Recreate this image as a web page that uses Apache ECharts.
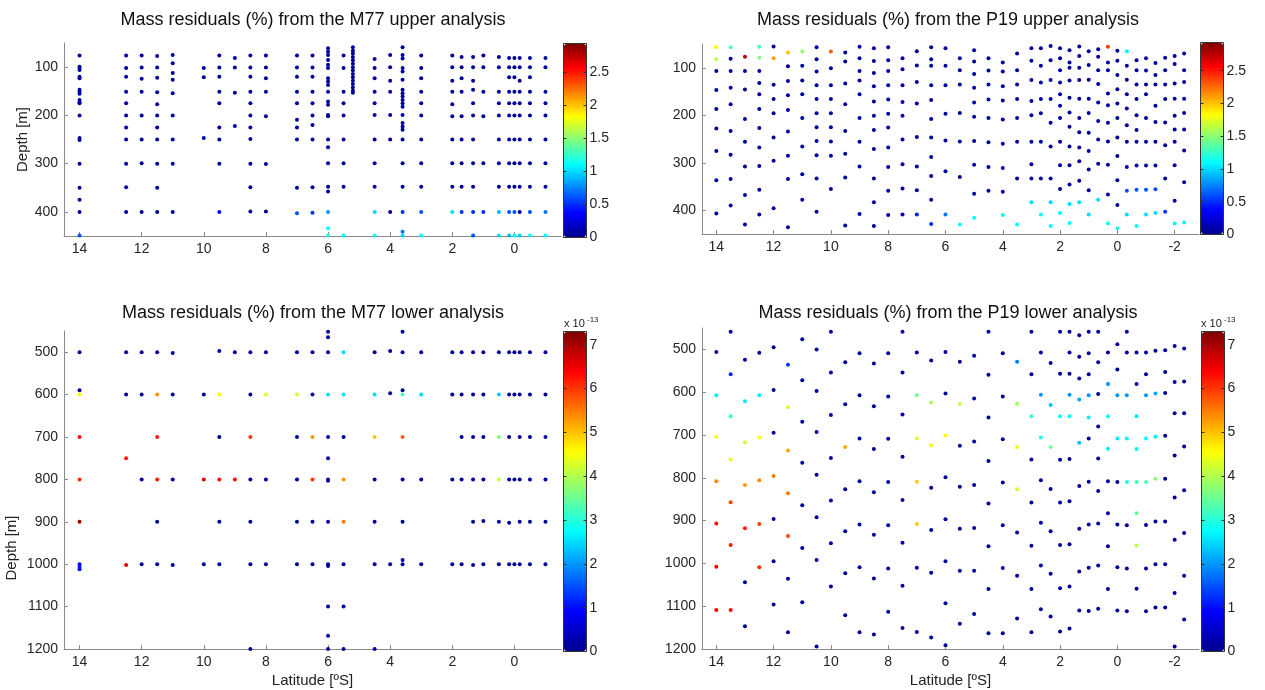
<!DOCTYPE html>
<html>
<head>
<meta charset="utf-8">
<title>Mass residuals</title>
<script src="https://cdn.jsdelivr.net/npm/echarts@6/dist/echarts.min.js"></script>
<style>
  html, body { margin: 0; padding: 0; background: #fff; }
  #main { width: 1265px; height: 690px; }
</style>
</head>
<body>
<div id="main"></div>
<script>
// ---- data: [latitude (ºS), depth (m)] per station column ----

// M77 upper: station latitudes and the dark (near zero) samples in each column
const m77UpperLat = [14, 12.5, 12, 11.5, 11, 10, 9.5, 9, 8.5, 8, 7, 6.5, 6, 5.5, 5.2, 4.5, 4, 3.6, 3, 2, 1.7, 1.33, 1, 0.5, 0.17, 0, -0.17, -0.5, -1];
const m77UpperDepth = [
  [76, 99, 102, 106, 120, 123, 147, 151, 155, 168, 173, 175, 200, 247, 251, 300, 350, 375, 400],
  [76, 102, 120, 151, 175, 200, 225, 250, 300, 349, 400],
  [76, 101, 124, 151, 200, 250, 299, 400],
  [77, 101, 122, 152, 177, 200, 225, 250, 300, 350, 400],
  [75, 92, 112, 126, 154, 200, 250, 300, 400],
  [102, 121, 247],
  [76, 101, 120, 151, 175, 225, 250, 300],
  [81, 101, 153, 222],
  [76, 101, 120, 151, 175, 200, 225, 249, 300, 349, 399],
  [76, 101, 123, 151, 202, 301, 399],
  [76, 101, 120, 151, 175, 209, 225, 250, 350],
  [76, 101, 120, 151, 175, 200, 220, 250, 349],
  [61, 68, 75, 85, 95, 102, 123, 130, 137, 151, 171, 178, 199, 202, 250, 266, 299, 348, 358],
  [76, 102, 151, 175, 200, 250, 299, 348],
  [59, 66, 72, 79, 86, 93, 100, 107, 114, 121, 128, 135, 142, 149, 153],
  [83, 102, 123, 151, 175, 199, 250, 299, 348],
  [75, 100, 128, 151, 199, 250, 400],
  [59, 75, 82, 102, 109, 126, 147, 154, 161, 168, 175, 182, 199, 216, 223, 230, 250, 299, 348],
  [76, 102, 123, 151, 175, 200, 250, 299, 348],
  [76, 100, 128, 151, 177, 202, 250, 299, 348],
  [79, 100, 123, 151, 202, 250, 299, 348],
  [79, 100, 128, 147, 175, 200, 250, 299, 348],
  [76, 100, 151, 202, 299],
  [79, 100, 151, 175, 200, 250, 299, 348],
  [81, 100, 121, 151, 175, 200, 250, 299, 348],
  [81, 100, 121, 151, 175, 200, 250, 299, 348],
  [81, 100, 128, 151, 175, 200, 250, 299, 348, 400],
  [81, 100, 121, 151, 175, 200, 250, 299, 348],
  [81, 100, 151, 175, 200, 250, 299, 348]
];
const m77UpperBase = 0.05;
// [lat, depth, residual %] for the lighter samples
const m77UpperColoured = [
  [14, 449, 0.6], [9.5, 400, 0.4], [7, 403, 0.6], [6.5, 402, 0.5], [6, 400, 0.8], [6, 434, 1.1], [6, 449, 1.2],
  [5.5, 449, 1.1], [4.5, 400, 1.0], [4.5, 449, 1.1], [3.6, 400, 0.5], [3.6, 441, 0.7], [3.6, 449, 1.0],
  [3, 400, 0.6], [3, 449, 1.1], [2, 400, 1.0], [1.7, 400, 0.5], [1.33, 400, 0.5], [1.33, 449, 0.6],
  [1, 400, 0.5], [0.5, 400, 0.9], [0.5, 449, 1.0], [0.17, 400, 0.6], [0.17, 449, 0.9], [0, 400, 0.6],
  [0, 449, 1.1], [-0.17, 449, 1.0], [-0.5, 400, 0.6], [-0.5, 449, 1.1], [-1, 400, 0.7], [-1, 449, 1.1]
];

// P19 upper
const p19Lat = [14, 13.5, 13, 12.5, 12, 11.5, 11, 10.5, 10, 9.5, 9, 8.5, 8, 7.5, 7, 6.5, 6, 5.5, 5, 4.5, 4, 3.5, 3, 2.67, 2.33, 2, 1.67, 1.33, 1, 0.67, 0.33, 0, -0.33, -0.67, -1, -1.33, -1.67, -2, -2.33];
const p19UpperDepth = [
  [107, 147, 187, 228, 275, 337, 407],
  [81, 107, 142, 177, 233, 283, 334, 390],
  [107, 146, 208, 256, 308, 368, 430],
  [107, 132, 156, 187, 227, 268, 307, 357, 409],
  [55, 136, 166, 196, 247, 296, 396],
  [97, 128, 158, 189, 234, 285, 334, 436],
  [96, 127, 156, 206, 266, 324, 378],
  [57, 82, 108, 137, 166, 196, 225, 254, 284, 333, 403],
  [101, 137, 166, 196, 225, 255, 285, 355],
  [68, 87, 133, 177, 233, 281, 331, 432],
  [56, 80, 107, 127, 156, 206, 256, 308, 408],
  [59, 86, 111, 139, 171, 201, 231, 271, 333, 383, 433],
  [57, 84, 107, 137, 167, 197, 226, 268, 309, 359, 410],
  [80, 103, 137, 172, 201, 251, 303, 354, 409],
  [65, 95, 130, 175, 246, 308, 358],
  [57, 82, 96, 137, 168, 208, 247, 288, 328, 378],
  [59, 96, 137, 197, 253, 318],
  [80, 105, 135, 195, 255, 330],
  [63, 87, 113, 142, 173, 203, 254, 304, 365],
  [80, 106, 135, 167, 206, 257, 309, 359],
  [89, 108, 139, 169, 209, 260, 311, 361],
  [70, 105, 135, 166, 206, 256, 333],
  [59, 85, 126, 170, 200, 256, 303, 333],
  [59, 96, 131, 166, 196, 256, 333],
  [54, 84, 126, 166, 216, 266, 333],
  [59, 80, 105, 131, 156, 180, 206, 256, 305, 355],
  [63, 89, 100, 127, 163, 194, 224, 266, 305, 346],
  [55, 75, 100, 126, 165, 206, 236, 268, 297, 338],
  [65, 94, 125, 165, 195, 237, 275, 314, 358],
  [61, 77, 105, 134, 173, 212, 251, 302],
  [89, 105, 154, 179, 216, 255, 304, 367],
  [64, 85, 115, 145, 175, 206, 247, 286, 337, 389],
  [96, 125, 156, 186, 221, 256, 309],
  [84, 105, 135, 166, 200, 231, 256, 306],
  [80, 106, 135, 156, 206, 256, 306],
  [90, 115, 135, 180, 214, 256, 306],
  [79, 105, 135, 166, 215, 263, 333],
  [75, 92, 133, 165, 201, 230, 256, 305, 380],
  [70, 105, 130, 165, 195, 230, 274, 341]
];
const p19UpperBase = 0.05;
const p19UpperColoured = [
  [14, 57, 1.8], [14, 82, 1.65], [13.5, 57, 1.3], [13, 77, 2.75], [12.5, 56, 1.3], [12.5, 79, 1.45],
  [12, 80, 2.1], [11.5, 68, 2.0], [11, 66, 1.5], [10, 66, 2.3], [7, 409, 0.45], [6.5, 429, 0.5],
  [6, 409, 0.7], [5.5, 430, 1.1], [5, 416, 1.1], [4, 410, 1.1], [3.5, 430, 1.1], [3, 383, 1.0],
  [2.67, 409, 1.1], [2.33, 383, 1.0], [2.33, 433, 1.1], [2, 406, 1.1], [1.67, 387, 1.0], [1.67, 427, 1.1],
  [1.33, 383, 1.0], [1, 409, 1.0], [0.67, 378, 1.0], [0.33, 56, 2.4], [0.33, 428, 1.1], [0, 438, 1.2],
  [-0.33, 65, 1.1], [-0.33, 359, 0.6], [-0.33, 409, 1.0], [-0.67, 357, 0.6], [-0.67, 433, 1.1],
  [-1, 357, 0.6], [-1, 409, 1.0], [-1.33, 356, 0.6], [-1.33, 406, 1.0], [-1.67, 403, 0.5],
  [-2, 428, 1.1], [-2.33, 426, 1.1]
];

// M77 lower (values x 1e-13 %)
const m77LowerLat = [14, 12.5, 12, 11.5, 11, 10, 9.5, 9, 8.5, 8, 7, 6.5, 6, 5.5, 4.5, 4, 3.6, 3, 2, 1.7, 1.33, 1, 0.5, 0.17, 0, -0.17, -0.5, -1];
const m77LowerDepth = [
  [500, 590],
  [500, 600],
  [500, 600, 800, 1000],
  [500, 900, 1000],
  [502, 600, 800, 1002],
  [600, 1000],
  [497, 700, 900, 1000],
  [500],
  [500, 600, 800, 900, 1000, 1200],
  [500, 800, 1000],
  [500, 700, 800, 900, 1000],
  [500, 600, 900, 1000],
  [452, 465, 500, 700, 750, 800, 803, 900, 1000, 1004, 1100, 1169, 1200],
  [700, 1000, 1100, 1200],
  [500, 800, 900, 1000, 1200],
  [497, 597, 1000],
  [452, 500, 590, 800, 900, 990, 1000],
  [500, 800, 1000],
  [500, 600, 800, 1000],
  [500, 600, 700, 800, 1000],
  [500, 600, 700, 800, 900, 1002],
  [500, 600, 700, 800, 898, 1000],
  [500, 900, 1000],
  [500, 600, 700, 800, 902, 1000],
  [500, 600, 800, 1000],
  [500, 600, 700, 800, 900, 1000],
  [500, 600, 700, 800, 900, 1000],
  [500, 600, 700, 800, 900, 1000]
];
const m77LowerBase = 0.1;
const m77LowerColoured = [
  [14, 600, 4.6], [14, 700, 6.3], [14, 800, 6.1], [14, 900, 7.0], [14, 1000, 1.0], [14, 1006, 1.0], [14, 1012, 1.0],
  [12.5, 750, 6.2], [12.5, 1002, 6.6], [11.5, 600, 5.3], [11.5, 700, 6.2], [11.5, 800, 6.2],
  [10, 800, 6.6], [9.5, 600, 4.6], [9.5, 800, 6.3], [9, 800, 6.3], [8.5, 700, 6.0], [8, 600, 4.3],
  [7, 600, 4.3], [6.5, 700, 5.3], [6.5, 800, 6.0], [6, 600, 2.5], [5.5, 500, 2.5], [5.5, 600, 2.5],
  [5.5, 800, 5.3], [5.5, 900, 5.5], [4.5, 600, 2.5], [4.5, 700, 5.0], [3.6, 600, 3.3], [3.6, 700, 5.7],
  [3, 600, 2.5], [0.5, 600, 2.4], [0.5, 700, 3.6], [0.5, 800, 4.2]
];

// P19 lower
const p19LowerDepth = [
  [506],
  [459],
  [524, 1044, 1147],
  [508],
  [495, 595, 695, 896, 995, 1096],
  [1036, 1161],
  [476, 572, 669, 765, 864, 964, 1091],
  [500, 597, 693, 793, 892, 992, 1194],
  [459, 554, 653, 754, 853, 953, 1054],
  [530, 628, 827, 925, 1023, 1121],
  [509, 607, 708, 808, 909, 1009, 1161],
  [533, 633, 733, 834, 933, 1035, 1166],
  [509, 610, 709, 810, 911, 1012, 1113],
  [459, 554, 652, 751, 852, 952, 1052, 1151],
  [507, 1010, 1160],
  [526, 823, 922, 1022, 1173],
  [506, 603, 799, 897, 995, 1093, 1191],
  [529, 725, 821, 919, 1017, 1141],
  [515, 615, 715, 817, 917, 1017, 1118],
  [459, 559, 659, 761, 860, 960, 1060, 1163],
  [509, 610, 710, 811, 911, 1011, 1163],
  [928, 1029, 1129],
  [459, 558, 757, 858, 959, 1060, 1161],
  [507, 806, 905, 1005, 1107],
  [532, 826, 925, 1024, 1124],
  [459, 557, 758, 858, 957, 1058, 1159],
  [459, 507, 557, 756, 855, 955, 1054, 1152],
  [467, 517, 568, 819, 919, 1019, 1110],
  [459, 509, 558, 708, 809, 909, 1010, 1111],
  [459, 530, 604, 680, 755, 831, 907, 1005, 1106],
  [507, 808, 883, 960, 1060],
  [488, 547, 810, 909, 1009, 1110],
  [459, 507, 911, 1012, 1112],
  [507, 581, 1059],
  [507, 558, 910, 1012, 1112],
  [503, 902, 1002, 1103],
  [502, 553, 602, 702, 802, 902, 1002, 1103],
  [492, 576, 649, 748, 846, 945, 1069, 1194],
  [498, 575, 649, 727, 829, 929, 1029, 1131]
];
const p19LowerBase = 0.1;
const p19LowerColoured = [
  [14, 607, 2.6], [14, 704, 4.5], [14, 808, 5.4], [14, 907, 6.3], [14, 1008, 6.5], [14, 1109, 6.5],
  [13.5, 558, 1.2], [13.5, 656, 3.1], [13.5, 757, 4.4], [13.5, 857, 5.9], [13.5, 957, 6.2], [13.5, 1109, 6.3],
  [13, 621, 2.6], [13, 717, 4.2], [13, 817, 5.3], [13, 918, 6.2],
  [12.5, 607, 2.6], [12.5, 706, 4.5], [12.5, 806, 5.4], [12.5, 908, 5.9], [12.5, 1009, 6.1],
  [12, 796, 5.5],
  [11.5, 536, 1.3], [11.5, 635, 4.2], [11.5, 736, 5.2], [11.5, 836, 5.5], [11.5, 936, 5.9],
  [9.5, 728, 5.2],
  [7, 607, 3.5], [7, 708, 4.3], [7, 809, 4.9], [7, 908, 4.9],
  [6.5, 624, 3.9], [6.5, 724, 4.5], [6, 701, 4.5], [5.5, 627, 4.1],
  [3.5, 529, 1.8], [3.5, 627, 3.9], [3.5, 728, 4.4], [3.5, 827, 4.2],
  [3, 656, 3.0], [2.67, 606, 2.0], [2.67, 706, 2.9], [2.33, 630, 2.3], [2.33, 728, 3.6],
  [2, 656, 2.7], [1.67, 606, 2.0], [1.67, 656, 2.7], [1.33, 617, 2.1], [1.33, 718, 2.3],
  [1, 607, 2.0], [1, 659, 2.6], [0.33, 581, 1.9], [0.33, 656, 2.7], [0.33, 732, 2.6],
  [0, 607, 2.0], [0, 708, 2.6], [-0.33, 607, 2.0], [-0.33, 708, 2.7], [-0.33, 810, 3.0],
  [-0.67, 656, 2.6], [-0.67, 733, 2.7], [-0.67, 810, 3.2], [-0.67, 883, 3.5], [-0.67, 958, 4.1],
  [-1, 607, 2.0], [-1, 708, 2.7], [-1, 810, 3.3], [-1.33, 603, 2.1], [-1.33, 704, 2.6], [-1.33, 802, 3.7]
];

// tick labels
const m77LatTicks = [0, 2, 4, 6, 8, 10, 12, 14];
const p19LatTicks = [-2, 0, 2, 4, 6, 8, 10, 12, 14];
const upperDepthTicks = [100, 200, 300, 400];
const lowerDepthTicks = [500, 600, 700, 800, 900, 1000, 1100, 1200];
const upperCbTicks = [0, 0.5, 1, 1.5, 2, 2.5];
const lowerCbTicks = [0, 1, 2, 3, 4, 5, 6, 7];
const upperCbMax = 2.93;
const lowerCbMax = 7.3;

const jet = ['#00008f', '#0000ff', '#007fff', '#00ffff', '#7fff7f', '#ffff00', '#ff7f00', '#ff0000', '#7f0000'];
const FONT = 'Liberation Sans, Arial, Helvetica, sans-serif';

function columnPoints(lats, depths, base, coloured) {
  const out = [];
  lats.forEach((lat, i) => depths[i].forEach(d => out.push([lat, d, base])));
  return out.concat(coloured);
}

// layout of the four panels and their colour bars
const panels = [
  {left: 64, top: 43, width: 497, height: 193, xmin: -1.5, ymin: 50, ymax: 450, xt: m77LatTicks, yt: upperDepthTicks},
  {left: 702, top: 44, width: 497, height: 190, xmin: -2.85, ymin: 50, ymax: 450, xt: p19LatTicks, yt: upperDepthTicks},
  {left: 64, top: 331, width: 497, height: 318, xmin: -1.5, ymin: 450, ymax: 1200, xt: m77LatTicks, yt: lowerDepthTicks},
  {left: 702, top: 328, width: 497, height: 321, xmin: -2.85, ymin: 450, ymax: 1200, xt: p19LatTicks, yt: lowerDepthTicks}
];
const bars = [
  {left: 564, top: 44, height: 193, max: upperCbMax, ticks: upperCbTicks},
  {left: 1201, top: 43, height: 191, max: upperCbMax, ticks: upperCbTicks},
  {left: 564, top: 332, height: 319, max: lowerCbMax, ticks: lowerCbTicks},
  {left: 1202, top: 332, height: 319, max: lowerCbMax, ticks: lowerCbTicks}
];
const BAR_W = 22;

const axisGrey = '#8a8a8a';
const labelStyle = {fontSize: 14, color: '#262626', fontFamily: FONT, formatter: v => String(v)};

const grid = [], xAxis = [], yAxis = [];
panels.forEach((p, i) => {
  grid.push({left: p.left, top: p.top, width: p.width, height: p.height, containLabel: false});
  xAxis.push({
    type: 'value', gridIndex: i, min: p.xmin, max: 14.5, inverse: true,
    splitLine: {show: false},
    axisLine: {onZero: false, lineStyle: {color: axisGrey}},
    axisTick: {inside: true, length: 4, lineStyle: {color: axisGrey}, customValues: p.xt},
    axisLabel: Object.assign({margin: 6, customValues: p.xt}, labelStyle),
    name: i >= 2 ? 'Latitude [ºS]' : '', nameLocation: 'middle', nameGap: 24,
    nameTextStyle: {fontSize: 15, color: '#222', fontFamily: FONT}
  });
  yAxis.push({
    type: 'value', gridIndex: i, min: p.ymin, max: p.ymax, inverse: true,
    splitLine: {show: false},
    axisLine: {onZero: false, lineStyle: {color: axisGrey}},
    axisTick: {inside: true, length: 4, lineStyle: {color: axisGrey}, customValues: p.yt},
    axisLabel: Object.assign({margin: 6, customValues: p.yt}, labelStyle),
    name: i === 0 ? 'Depth [m]' : '', nameLocation: 'middle', nameGap: 34, nameRotate: 90,
    nameTextStyle: {fontSize: 15, color: '#222', fontFamily: FONT}
  });
});
bars.forEach((b, i) => {
  const gi = 4 + i;
  grid.push({left: b.left - 0.5, top: b.top - 0.5, width: BAR_W + 1, height: b.height + 1, show: true,
    borderColor: '#333', borderWidth: 1, backgroundColor: 'transparent', z: 10});
  xAxis.push({type: 'value', gridIndex: gi, min: 0, max: 1, show: false});
  yAxis.push({
    type: 'value', gridIndex: gi, min: 0, max: b.max, position: 'right', z: 10,
    splitLine: {show: false}, axisLine: {show: false, onZero: false},
    axisTick: {inside: true, length: 3, lineStyle: {color: '#333'}, customValues: b.ticks},
    axisLabel: Object.assign({margin: 3, customValues: b.ticks}, labelStyle)
  });
});
bars.forEach((b, i) => {
  yAxis.push({
    type: 'value', gridIndex: 4 + i, min: 0, max: b.max, position: 'left', z: 10,
    splitLine: {show: false}, axisLine: {show: false, onZero: false},
    axisTick: {inside: true, length: 3, lineStyle: {color: '#333'}, customValues: b.ticks},
    axisLabel: {show: false}
  });
});

const seriesData = [
  columnPoints(m77UpperLat, m77UpperDepth, m77UpperBase, m77UpperColoured),
  columnPoints(p19Lat, p19UpperDepth, p19UpperBase, p19UpperColoured),
  columnPoints(m77LowerLat, m77LowerDepth, m77LowerBase, m77LowerColoured),
  columnPoints(p19Lat, p19LowerDepth, p19LowerBase, p19LowerColoured)
];
const series = seriesData.map((data, i) => ({
  type: 'scatter', xAxisIndex: i, yAxisIndex: i, data: data,
  symbol: 'circle', symbolSize: 4, clip: false,
  itemStyle: {opacity: 1}, emphasis: {disabled: true}, animation: false
}));

const visualMap = bars.map((b, i) => ({
  type: 'continuous', seriesIndex: i, dimension: 2, min: 0, max: b.max,
  calculable: false, hoverLink: false, realtime: false, padding: 0,
  itemWidth: BAR_W, itemHeight: b.height, left: b.left, top: b.top,
  text: null, inRange: {color: jet}
}));

const titles = [
  {x: 313, y: 20, t: 'Mass residuals (%) from the M77 upper analysis'},
  {x: 948, y: 20, t: 'Mass residuals (%) from the P19 upper analysis'},
  {x: 313, y: 313, t: 'Mass residuals (%) from the M77 lower analysis'},
  {x: 948, y: 313, t: 'Mass residuals (%) from the P19 lower analysis'}
];
const graphic = titles.map(t => ({
  type: 'text', x: t.x, y: t.y, silent: true,
  style: {text: t.t, fontSize: 18, fontFamily: FONT, fill: '#111', align: 'center', verticalAlign: 'middle'}
}));
// lower-left depth label sits lower than the axis centre in the original
graphic.push({type: 'text', x: 12, y: 548, rotation: Math.PI / 2, silent: true,
  style: {text: 'Depth [m]', fontSize: 15, fontFamily: FONT, fill: '#222', align: 'center', verticalAlign: 'middle'}});
[564, 1201].forEach(x => {
  graphic.push({type: 'text', x: x, y: 324, silent: true,
    style: {text: 'x 10', fontSize: 11, fontFamily: FONT, fill: '#222', align: 'left', verticalAlign: 'middle'}});
  graphic.push({type: 'text', x: x + 23, y: 320, silent: true,
    style: {text: '-13', fontSize: 8, fontFamily: FONT, fill: '#222', align: 'left', verticalAlign: 'middle'}});
});

const chart = echarts.init(document.getElementById('main'), null, {renderer: 'canvas'});
chart.setOption({
  animation: false,
  backgroundColor: '#ffffff',
  textStyle: {fontFamily: FONT},
  grid: grid,
  xAxis: xAxis,
  yAxis: yAxis,
  visualMap: visualMap,
  series: series,
  graphic: graphic
});
</script>
</body>
</html>
